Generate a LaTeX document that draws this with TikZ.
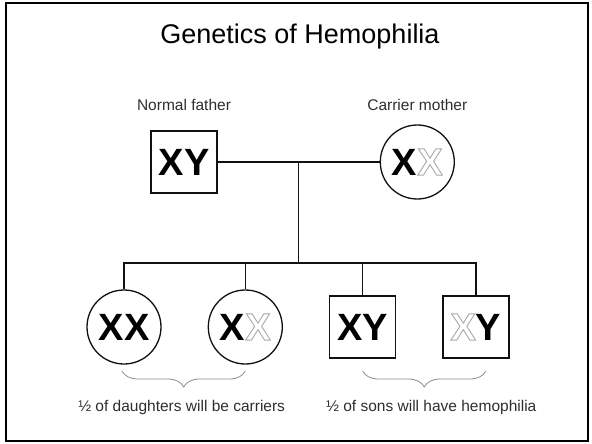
\documentclass[tikz,border=0pt]{standalone}
\usepackage{fontspec}
\setmainfont{Liberation Sans}
\usepackage{xcolor}
\definecolor{hmInk}{HTML}{111111}
\definecolor{hmGrey}{HTML}{2E2E2E}
\definecolor{hmBrace}{HTML}{8C8C8C}
% hollow letter: stroked outline only (text render mode 1)
\newcommand{\paleX}{\special{pdf:code q 1 Tr 0.9 w 0.66 G}X\special{pdf:code Q}}
\usepackage{tikz}
\usetikzlibrary{positioning,calc,decorations.pathreplacing}

\begin{document}
\begin{tikzpicture}[
      every node/.style={font=\fontsize{15.5}{18}\selectfont},
      headline/.style={font=\fontsize{27}{32}\selectfont,text=black},
      role/.style={text=hmGrey,inner sep=1pt},
      male/.style={rectangle,draw=hmInk,line width=1.3pt,
                   minimum width=66pt,minimum height=62pt,inner sep=1pt,
                   font=\fontsize{38}{40}\selectfont\bfseries,text=black},
      female/.style={circle,draw=hmInk,line width=1.3pt,
                   minimum size=74pt,inner sep=1pt,
                   font=\fontsize{38}{40}\selectfont\bfseries,text=black},
      link/.style={line width=1.6pt,hmInk},
      halfbrace/.style={decorate,decoration={brace,mirror,amplitude=16pt},
                   hmBrace,line width=0.8pt},
      frame/.style={line width=2.5pt,black},
    ]

    \useasboundingbox (0,0) rectangle (592pt,-444pt);
    \draw[frame] (6pt,-3pt) rectangle (588pt,-441pt);

    % Node layout
    \node[headline] (ttl) at (300pt,-37pt) {Genetics of Hemophilia};
    \node[male] (fa) at (184pt,-162pt) {XY};
    \node[female,right=162pt of fa] (mo) {X\paleX};
    \node[role,above=18pt of fa] (faLbl) {Normal father};
    \node[role] (moLbl) at (mo |- faLbl) {Carrier mother};

    \node[female] (d1) at (124pt,-327pt) {XX};
    \node[female,right=46pt of d1] (d2) {X\paleX};
    \node[male,right=46pt of d2] (s1) {XY};
    \node[male,right=46pt of s1] (s2) {\paleX Y};

    \node[role] (dNote) at ($(d1)!0.5!(d2)+(-3pt,-80pt)$) {½ of daughters will be carriers};
    \node[role] (sNote) at ($(s1)!0.5!(s2)+(12pt,-80pt)$) {½ of sons will have hemophilia};

    \coordinate (jn) at ($(fa.east)!0.5!(mo.west)$);
    \coordinate (bar) at ($(jn)+(0,-101pt)$);

    % Family lines
    \draw[link] (fa) -- (mo);
    \draw[link] (jn) -- (bar);
    \draw[link] (d1.north) |- (bar) -| (s2.north);
    \draw[link] (d2.north) -- (d2.north |- bar);
    \draw[link] (s1.north) -- (s1.north |- bar);

    % Braces
    \draw[halfbrace] ($(d1.center)+(-2pt,-44pt)$) -- ($(d2.center)+(0,-44pt)$);
    \draw[halfbrace] ($(s1.center)+(0,-44pt)$) -- ($(s2.center)+(10pt,-44pt)$);

  \end{tikzpicture}
\end{document}
